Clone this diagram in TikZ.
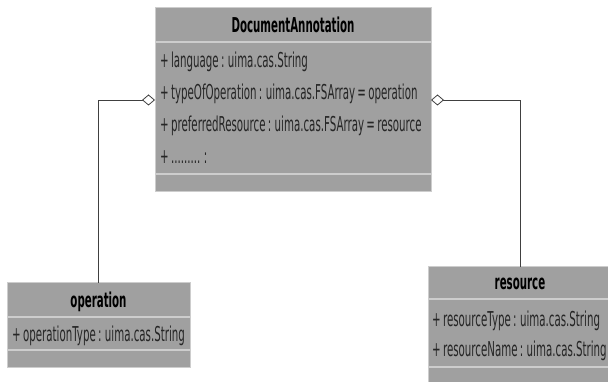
\documentclass[tikz,border=0pt]{standalone}
\usepackage{fontspec}
\newfontfamily\umlfont[FakeStretch=0.5, WordSpace=0.7]{DejaVu Sans}
\usetikzlibrary{arrows.meta}
\definecolor{boxfill}{HTML}{A0A0A0}
\definecolor{sepcol}{HTML}{CDCDCD}
\definecolor{linecol}{HTML}{404040}
\begin{document}
\begin{tikzpicture}[x=1pt,y=-1pt,
  classbox/.style={draw=sepcol, line width=1pt, fill=boxfill, inner sep=0pt, outer sep=0pt},
  sepline/.style={draw=sepcol, line width=2pt},
  attr/.style={anchor=base west, inner sep=0pt, font=\umlfont\fontsize{20.5}{24}\selectfont, text=black!85},
  ctitle/.style={anchor=base, inner sep=0pt, font=\umlfont\bfseries\fontsize{20.5}{24}\selectfont, text=black},
  agg/.style={draw=linecol, line width=0.8pt, {Diamond[open, length=13pt, width=11pt, fill=white]}-}
]
\useasboundingbox (0,0) rectangle (608,382);
\clip (0,0) rectangle (608,382);
% main class
\node[classbox, minimum width=276pt, minimum height=184pt] (main) at (293,100) {};
\draw[sepline] ([yshift=-34pt]main.north west) -- ([yshift=-34pt]main.north east);
\draw[sepline] ([yshift=18pt]main.south west) -- ([yshift=18pt]main.south east);
\node[ctitle] (mainT) at (293,33) {DocumentAnnotation};
\node[attr] (m1) at (160,68) {+ language : uima.cas.String};
\node[attr] (m2) at (160,100) {+ typeOfOperation : uima.cas.FSArray = operation};
\node[attr] (m3) at (160,132) {+ preferredResource : uima.cas.FSArray = resource};
\node[attr] (m4) at (160,164) {+ ......... :};
% operation class
\node[classbox, minimum width=183pt, minimum height=84pt] (op) at (98.5,325) {};
\draw[sepline] ([yshift=-34pt]op.north west) -- ([yshift=-34pt]op.north east);
\draw[sepline] ([yshift=17pt]op.south west) -- ([yshift=17pt]op.south east);
\node[ctitle] (opT) at (98.5,307) {operation};
\node[attr] (o1) at (12,341) {+ operationType : uima.cas.String};
% resource class
\node[classbox, minimum width=184pt, minimum height=128pt] (res) at (520,331) {};
\draw[sepline] ([yshift=-32pt]res.north west) -- ([yshift=-32pt]res.north east);
\draw[sepline] ([yshift=-100pt]res.north west) -- ([yshift=-100pt]res.north east);
\node[ctitle] (resT) at (520,290) {resource};
\node[attr] (r1) at (432,326) {+ resourceType : uima.cas.String};
\node[attr] (r2) at (432,356) {+ resourceName : uima.cas.String};
% aggregations
\draw[agg] (main.west) -| (op.north);
\draw[agg] (main.east) -| (res.north);
\end{tikzpicture}
\end{document}
